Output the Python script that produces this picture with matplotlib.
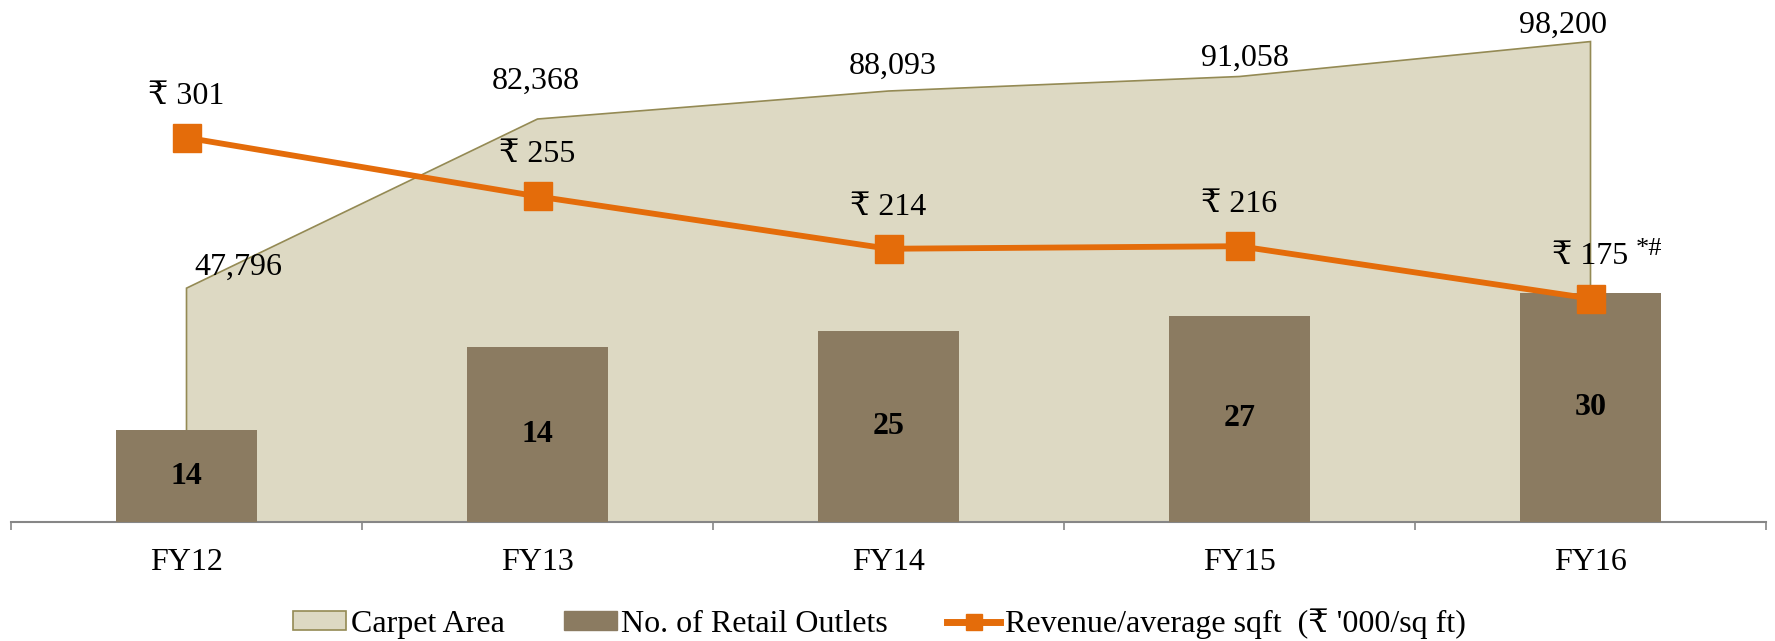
import matplotlib
matplotlib.use("Agg")
import matplotlib.pyplot as plt
from matplotlib.patches import Patch
from matplotlib.lines import Line2D

plt.rcParams['font.family'] = ['Liberation Serif', 'DejaVu Serif']

years = ["FY12", "FY13", "FY14", "FY15", "FY16"]
carpet_area = [47796, 82368, 88093, 91058, 98200]
outlets_height = [12, 23, 25, 27, 30]
outlets_labels = ["14", "14", "25", "27", "30"]
revenue_sqft = [301, 255, 214, 216, 175]

area_fill = "#DDD9C3"
area_edge = "#948A54"
bar_color = "#8B7B61"
line_color = "#E46C0A"
axis_gray = "#868686"
fs = 23

fig = plt.figure(figsize=(17.75, 6.41), dpi=100)
ax = fig.add_axes([11 / 1775, 119 / 641, 1755 / 1775, 512 / 641])
ax_bar = ax.twinx()
ax_line = ax.twinx()

x = list(range(len(years)))

# carpet area (back)
poly_x = [x[0]] + x + [x[-1]]
poly_y = [0] + carpet_area + [0]
ax.fill(poly_x, poly_y, facecolor=area_fill, edgecolor=area_edge, linewidth=1.2)
ax.set_ylim(0, 104650)

# label offsets in points, per point
area_offsets = [(37, 15), (-1, 27), (3, 18), (4, 13), (-20, 12)]
for xi, v, off in zip(x, carpet_area, area_offsets):
    ax.annotate(f"{v:,}", (xi, v), xytext=off, textcoords="offset points",
                ha="center", va="center", fontsize=fs)

# retail outlets
ax_bar.bar(x, outlets_height, width=0.4, color=bar_color, zorder=2)
ax_bar.set_ylim(0, 67.1)
for xi, h, lab in zip(x, outlets_height, outlets_labels):
    ax_bar.text(xi, h / 2, lab, ha="center", va="center", fontsize=fs, fontweight="bold")

# revenue per sqft
ax_line.plot(x, revenue_sqft, color=line_color, linewidth=4.2, marker="s",
             markersize=20, markerfacecolor=line_color, markeredgecolor=line_color)
ax_line.set_ylim(0, 401)
for xi, v in zip(x, revenue_sqft):
    ax_line.annotate(f"₹ {v}", (xi, v), xytext=(0, 30), textcoords="offset points",
                     ha="center", va="center", fontsize=fs)
ax_line.annotate("*#", (x[-1], revenue_sqft[-1]), xytext=(42, 36), textcoords="offset points",
                 ha="center", va="center", fontsize=19)

for a in (ax, ax_bar, ax_line):
    a.set_xlim(-0.5, len(years) - 0.5)
    for s in a.spines.values():
        s.set_visible(False)
    a.set_yticks([])
ax_bar.xaxis.set_visible(False)
ax_line.xaxis.set_visible(False)

ax.spines["bottom"].set_visible(True)
ax.spines["bottom"].set_color(axis_gray)
ax.spines["bottom"].set_linewidth(1.5)
ax.spines["bottom"].set_zorder(5)
ax.set_xticks(x)
ax.set_xticklabels(years, fontsize=fs)
ax.tick_params(axis="x", which="major", length=0, pad=19)
ax.set_xticks([i - 0.5 for i in range(len(years) + 1)], minor=True)
ax.tick_params(axis="x", which="minor", length=6, width=1.2, color=axis_gray)

handles = [
    Patch(facecolor=area_fill, edgecolor=area_edge, linewidth=1.2),
    Patch(facecolor=bar_color, edgecolor=bar_color),
    Line2D([], [], color=line_color, linewidth=5, marker="s", markersize=11),
]
labels = ["Carpet Area", "No. of Retail Outlets", "Revenue/average sqft  (₹ '000/sq ft)"]
fig.legend(handles, labels, loc="center", bbox_to_anchor=(0.4955, 0.027), ncol=3,
           frameon=False, fontsize=fs, handlelength=1.65, handleheight=0.55,
           handletextpad=0.15, columnspacing=1.85)

fig.savefig("out.png", dpi=100)
